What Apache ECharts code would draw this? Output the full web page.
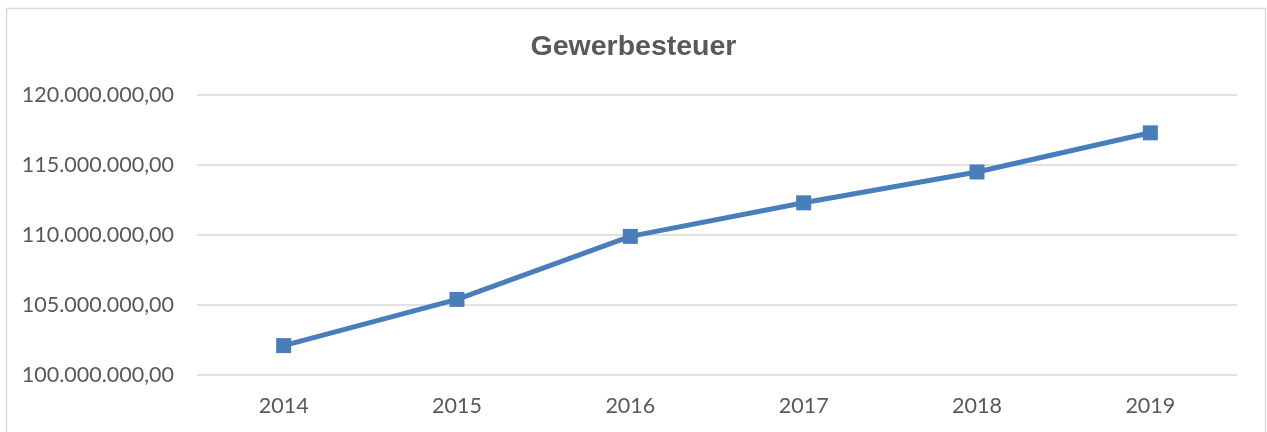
<!DOCTYPE html>
<html>
<head>
<meta charset="utf-8">
<script src="https://cdn.jsdelivr.net/npm/echarts@6/dist/echarts.min.js"></script>
<style>
  html, body { margin: 0; padding: 0; background: #fff; }
  #chart { width: 1267px; height: 432px; }
</style>
</head>
<body>
<div id="chart"></div>
<script>
var titleText = "Gewerbesteuer";
var years = ["2014", "2015", "2016", "2017", "2018", "2019"];
var gewerbesteuer = [102100000, 105400000, 109900000, 112300000, 114500000, 117300000];

// 120000000 -> "120.000.000,00"
function formatDE(v) {
  var parts = Math.round(v).toString();
  var out = "";
  while (parts.length > 3) {
    out = "." + parts.slice(-3) + out;
    parts = parts.slice(0, -3);
  }
  return parts + out + ",00";
}

var chart = echarts.init(document.getElementById("chart"));
chart.setOption({
  animation: false,
  backgroundColor: "#ffffff",
  title: {
    text: titleText,
    left: "center",
    top: 33,
    padding: 0,
    textStyle: { fontFamily: "Liberation Sans", fontWeight: "bold", fontSize: 28.5, color: "#595959" }
  },
  graphic: [{
    type: "rect",
    shape: { x: 6.5, y: 8.5, width: 1259, height: 440 },
    style: { fill: "none", stroke: "#d9d9d9", lineWidth: 1.5 },
    silent: true
  }],
  grid: { left: 197, right: 30, top: 95, bottom: 57, containLabel: false },
  xAxis: {
    type: "category",
    data: years,
    boundaryGap: true,
    axisLine: { show: false },
    axisTick: { show: false },
    axisLabel: { margin: 20, fontFamily: "Lato", fontSize: 21.5, color: "#595959" }
  },
  yAxis: {
    type: "value",
    min: 100000000,
    max: 120000000,
    interval: 5000000,
    axisLine: { show: false },
    axisTick: { show: false },
    splitLine: { lineStyle: { color: "#d9d9d9", width: 1.5 } },
    axisLabel: { margin: 23, fontFamily: "Lato", fontSize: 21.5, color: "#595959", formatter: formatDE }
  },
  series: [{
    type: "line",
    data: gewerbesteuer,
    symbol: "rect",
    symbolSize: 15,
    lineStyle: { color: "#4a7ebb", width: 5 },
    itemStyle: { color: "#4a7ebb" }
  }]
});
</script>
</body>
</html>
